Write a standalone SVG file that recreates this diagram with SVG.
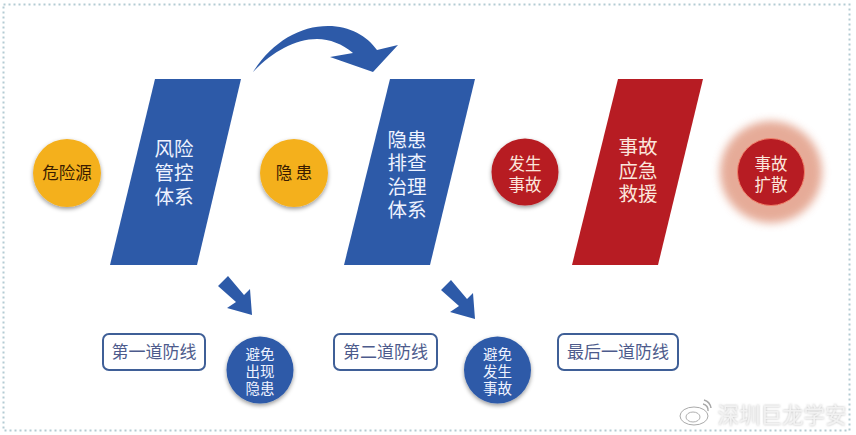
<svg xmlns="http://www.w3.org/2000/svg" width="856" height="435" viewBox="0 0 856 435">
<style>
text{font-family:"Noto Sans CJK SC","Noto Sans",sans-serif;text-anchor:middle}
.blue{fill:#2d5aa8}.red{fill:#b71c23}.yel{fill:#f4b01f}
.tw{fill:#eef3ff}.tr{fill:#fbe6dc}.td{fill:#3a1c00}
.big{font-size:19.5px}.mid{font-size:16.5px}.sm{font-size:14.5px}
.box{fill:#fff;stroke:#3f5f97;stroke-width:2}
.bt{font-size:17px;fill:#4d5b8c}
.sh{filter:url(#shadow)}
</style>
<defs>
<filter id="shadow" x="-30%" y="-30%" width="160%" height="170%"><feDropShadow dx="0" dy="2" stdDeviation="2" flood-color="#000" flood-opacity=".4"/></filter>
<filter id="blur" x="-30%" y="-30%" width="160%" height="160%"><feGaussianBlur stdDeviation="4"/></filter>
<filter id="wm" x="-10%" y="-30%" width="120%" height="160%"><feDropShadow dx="0" dy="0" stdDeviation="1" flood-color="#999" flood-opacity=".7"/></filter>
<path id="da" d="M218 286L228 276L244 295L250 289L252 315L227 308L236 302Z"/>
</defs>
<rect x="3.500" y="4.500" width="846" height="426" fill="#fff" stroke="#b3cbd3" stroke-width="2" stroke-dasharray="2 3"/>
<g id="connectors">
<path class="blue" d="M253 72C272 42 300 26 328 26C350 26 367 36 377 50L398 45L373 72L330 57L353 53C342 44 330 39 317 39C295 39 272 52 253 72Z"/>
<use href="#da" class="blue"/>
<use href="#da" class="blue" x="223" y="4"/>
</g>
<g id="source"><circle class="yel sh" cx="67" cy="173" r="34"/><text class="mid td" x="67" y="179">危险源</text></g>
<g id="riskctl"><path class="blue" d="M155 79H241L197 265H110Z"/>
<text class="big tw" y="156"><tspan x="174">风险</tspan><tspan x="174" dy="24">管控</tspan><tspan x="174" dy="24">体系</tspan></text></g>
<g id="hazard"><circle class="yel sh" cx="294" cy="173" r="34"/><text class="mid td" x="294" y="179">隐 患</text></g>
<g id="hazctl"><path class="blue" d="M390 79H475L430 265H344Z"/>
<text class="big tw" y="147"><tspan x="407">隐患</tspan><tspan x="407" dy="23.400">排查</tspan><tspan x="407" dy="23.400">治理</tspan><tspan x="407" dy="23.400">体系</tspan></text></g>
<g id="accident"><circle class="red sh" cx="525" cy="172" r="33.500"/><text class="mid tr" y="170"><tspan x="525">发生</tspan><tspan x="525" dy="21">事故</tspan></text></g>
<g id="rescue"><path class="red" d="M618 79H703L658 265H572Z"/>
<text class="big tr" y="154"><tspan x="638">事故</tspan><tspan x="638" dy="23.500">应急</tspan><tspan x="638" dy="23.500">救援</tspan></text></g>
<g id="spread"><circle cx="771" cy="172" r="51" fill="#e0977f" opacity=".8" filter="url(#blur)"/><circle class="red" cx="771" cy="172" r="33.500" stroke="#f0806a" stroke-width="1"/><text class="mid tr" y="170"><tspan x="771">事故</tspan><tspan x="771" dy="21">扩散</tspan></text></g>
<g id="line1"><rect class="box" x="103" y="334" width="102" height="36" rx="6"/><text class="bt" x="154" y="358">第一道防线</text></g>
<g id="avoid1"><circle class="blue sh" cx="260" cy="370" r="33.500"/><text class="sm tw" y="360"><tspan x="260">避免</tspan><tspan x="260" dy="17">出现</tspan><tspan x="260" dy="17">隐患</tspan></text></g>
<g id="line2"><rect class="box" x="334" y="334" width="103" height="36" rx="6"/><text class="bt" x="385.500" y="358">第二道防线</text></g>
<g id="avoid2"><circle class="blue sh" cx="497.500" cy="370" r="33.500"/><text class="sm tw" y="360"><tspan x="497.500">避免</tspan><tspan x="497.500" dy="17">发生</tspan><tspan x="497.500" dy="17">事故</tspan></text></g>
<g id="line3"><rect class="box" x="558" y="334" width="120" height="36" rx="6"/><text class="bt" x="618" y="358">最后一道防线</text></g>
<g id="watermark"><ellipse cx="694" cy="416" rx="14" ry="9" fill="#fff" stroke="#aaa" stroke-width="1"/><ellipse cx="693" cy="417" rx="7" ry="5" fill="none" stroke="#b0b0b0" stroke-width="1"/><path d="M703 404A6 6 0 0 1 708 411M704 400A10 10 0 0 1 711 408" fill="none" stroke="#a8a8a8" stroke-width="1.500"/>
<text x="782" y="423" font-size="21.500" fill="#f2f2f2" filter="url(#wm)">深圳巨龙学安</text></g>
</svg>
